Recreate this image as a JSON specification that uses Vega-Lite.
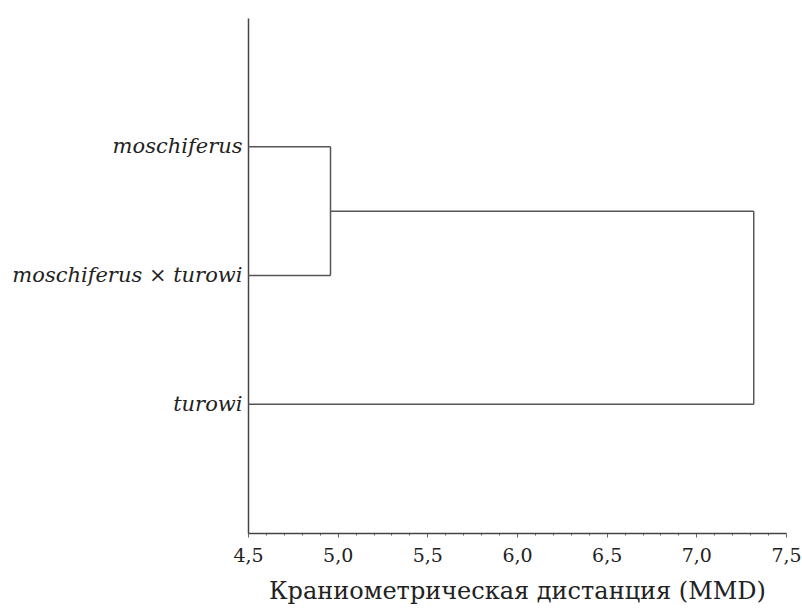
{
  "$schema": "https://vega.github.io/schema/vega-lite/v6.json",
  "width": 538,
  "height": 515,
  "autosize": "none",
  "padding": {"left": 248, "top": 18, "right": 16, "bottom": 76},
  "background": "white",
  "config": {"view": {"stroke": null}, "font": "DejaVu Serif"},
  "data": {
    "values": [
      {"x": 4.5, "x2": 4.96, "y": 1, "y2": 1},
      {"x": 4.5, "x2": 4.96, "y": 2, "y2": 2},
      {"x": 4.96, "x2": 4.96, "y": 1, "y2": 2},
      {"x": 4.96, "x2": 7.32, "y": 1.5, "y2": 1.5},
      {"x": 4.5, "x2": 7.32, "y": 3, "y2": 3},
      {"x": 7.32, "x2": 7.32, "y": 1.5, "y2": 3}
    ]
  },
  "mark": {"type": "rule", "color": "#555555", "strokeWidth": 1.5},
  "encoding": {
    "x": {
      "field": "x",
      "type": "quantitative",
      "scale": {"domain": [4.5, 7.5], "nice": false, "zero": false},
      "axis": {
        "title": "Краниометрическая дистанция (MMD)",
        "titleFont": "DejaVu Serif",
        "titleFontSize": 24,
        "titleFontWeight": "normal",
        "titleColor": "#222222",
        "titlePadding": 14,
        "labelFont": "DejaVu Serif",
        "labelFontSize": 19,
        "labelColor": "#222222",
        "labelPadding": 9,
        "labelFlush": false,
        "labelOverlap": false,
        "grid": false,
        "domainColor": "#444444",
        "domainWidth": 1.5,
        "tickColor": "#666666",
        "tickSize": {"condition": {"test": "abs(datum.value*2 - round(datum.value*2)) < 0.001", "value": 4}, "value": 2},
        "values": [4.5, 4.6, 4.7, 4.8, 4.9, 5.0, 5.1, 5.2, 5.3, 5.4, 5.5, 5.6, 5.7, 5.8, 5.9, 6.0, 6.1, 6.2, 6.3, 6.4, 6.5, 6.6, 6.7, 6.8, 6.9, 7.0, 7.1, 7.2, 7.3, 7.4, 7.5],
        "labelExpr": "abs(datum.value*2 - round(datum.value*2)) < 0.001 ? replace(format(datum.value, '.1f'), '.', ',') : ''"
      }
    },
    "x2": {"field": "x2"},
    "y": {
      "field": "y",
      "type": "quantitative",
      "scale": {"domain": [0, 4], "reverse": true, "nice": false, "zero": false},
      "axis": {
        "title": null,
        "grid": false,
        "ticks": false,
        "values": [1, 2, 3],
        "labelExpr": "datum.value == 1 ? 'moschiferus' : datum.value == 2 ? 'moschiferus × turowi' : 'turowi'",
        "labelFont": "DejaVu Serif",
        "labelFontStyle": "italic",
        "labelFontSize": 21,
        "labelLimit": 400,
        "labelColor": "#222222",
        "labelPadding": 6,
        "domainColor": "#444444",
        "domainWidth": 1.5
      }
    },
    "y2": {"field": "y2"}
  }
}
